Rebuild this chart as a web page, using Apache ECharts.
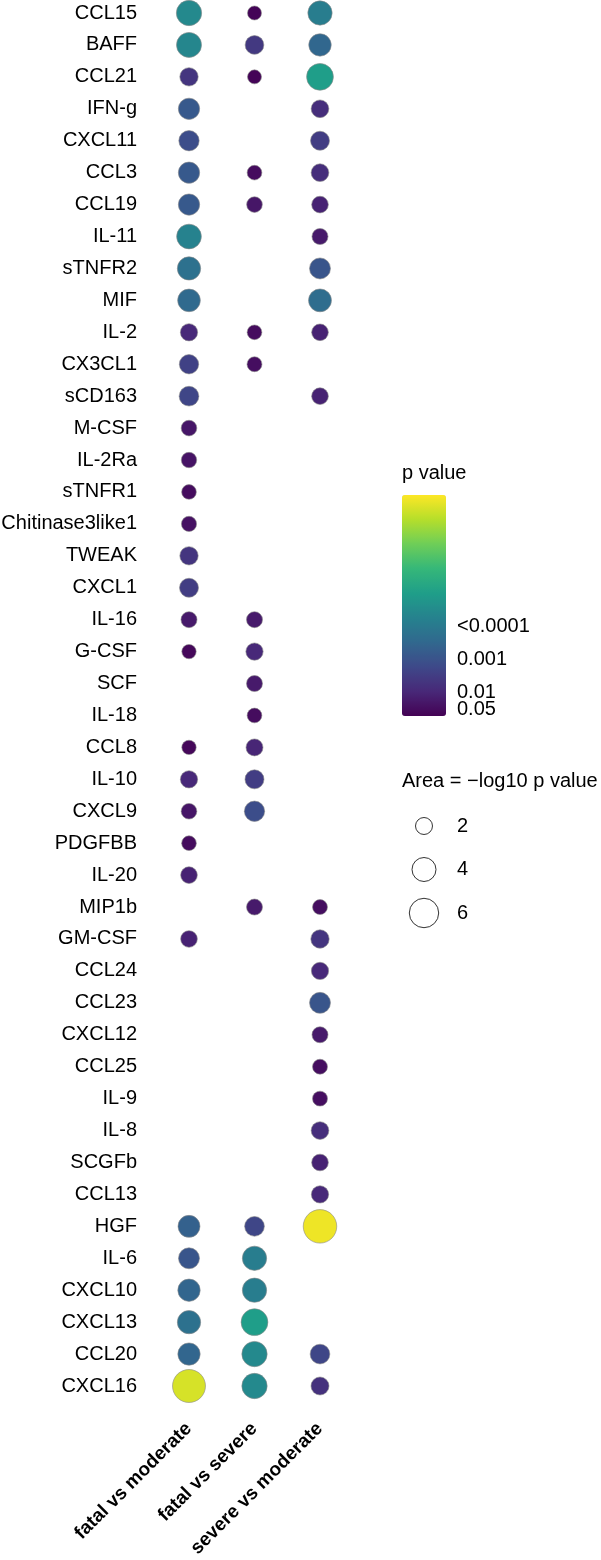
<!DOCTYPE html>
<html>
<head>
<meta charset="utf-8">
<script src="https://cdn.jsdelivr.net/npm/echarts@6/dist/echarts.min.js"></script>
<style>
html,body{margin:0;padding:0;background:#fff;}
#main{width:601px;height:1560px;}
</style>
</head>
<body>
<div id="main"></div>
<script>
// ---- data ----
const cytokines = ['CCL15','BAFF','CCL21','IFN-g','CXCL11','CCL3','CCL19','IL-11','sTNFR2','MIF',
  'IL-2','CX3CL1','sCD163','M-CSF','IL-2Ra','sTNFR1','Chitinase3like1','TWEAK','CXCL1','IL-16',
  'G-CSF','SCF','IL-18','CCL8','IL-10','CXCL9','PDGFBB','IL-20','MIP1b','GM-CSF',
  'CCL24','CCL23','CXCL12','CCL25','IL-9','IL-8','SCGFb','CCL13','HGF','IL-6',
  'CXCL10','CXCL13','CCL20','CXCL16'];
const comparisons = ['fatal vs moderate','fatal vs severe','severe vs moderate'];
// -log10 p values (null = not significant)
const fatalVsModerate = [4.45,4.35,2.34,3.15,2.87,3.15,3.15,4.25,3.78,3.57,
  2.07,2.6,2.7,1.7,1.65,1.5,1.6,2.34,2.5,1.78,
  1.43,null,null,1.43,2.07,1.7,1.5,1.93,null,1.93,
  null,null,null,null,null,null,null,null,3.36,3.06,
  3.47,3.78,3.47,7.55];
const fatalVsSevere = [1.36,2.43,1.36,null,null,1.5,1.7,null,null,null,
  1.5,1.55,null,null,null,null,null,null,null,1.78,
  2.07,1.78,1.5,2.0,2.5,2.87,null,null,1.78,null,
  null,null,null,null,null,null,null,null,2.7,4.1,
  4.1,5.0,4.45,4.45];
const severeVsModerate = [4.1,3.5,5.0,2.17,2.5,2.17,1.93,1.78,3.06,3.65,
  1.93,null,1.93,null,null,null,null,null,null,null,
  null,null,null,null,null,null,null,null,1.55,2.34,
  2.07,3.06,1.78,1.55,1.55,2.17,1.93,2.07,7.8,null,
  null,null,2.7,2.25];
const colorTickValues = [1.5, 2, 3, 4];
const colorTickLabels = ['0.05','0.01','0.001','<0.0001'];
const sizeLegendValues = [2, 4, 6];
const colorMin = 1.3, colorMax = 7.95;

const viridis = ['#440154','#482878','#3e4989','#31688e','#26828e','#1f9e89','#35b779','#6ece58','#b5de2b','#fde725'];
const sizeOf = v => 12 * Math.sqrt(v);

const columns = [fatalVsModerate, fatalVsSevere, severeVsModerate];
const points = [];
columns.forEach((col, ci) => {
  col.forEach((v, ri) => {
    if (v !== null) points.push([comparisons[ci], cytokines[ri], v]);
  });
});

const chart = echarts.init(document.getElementById('main'), null, {renderer: 'canvas'});
const font = 'Liberation Sans, Arial, sans-serif';
const tickFormatter = v => { const i = colorTickValues.findIndex(t => Math.abs(t - v) < 1e-6); return i >= 0 ? colorTickLabels[i] : ''; };
const colorAxis = (vals) => ({
  type: 'value', gridIndex: 1, min: colorMin, max: colorMax, position: 'right',
  axisLine: {show: false}, axisTick: {show: false}, splitLine: {show: false},
  axisLabel: {customValues: vals, hideOverlap: false,
    fontSize: 20, color: '#000', fontFamily: font, margin: 11, formatter: tickFormatter}
});
chart.setOption({
  animation: false,
  textStyle: {fontFamily: font},
  grid: [
    {left: 189, right: 281, top: 13, bottom: 174, outerBoundsMode: 'none', containLabel: false},
    {left: 402, width: 44, top: 495, height: 221, outerBoundsMode: 'none', containLabel: false},
    {left: 424, width: 22, top: 826, height: 87, outerBoundsMode: 'none', containLabel: false}
  ],
  xAxis: [
    {type: 'category', data: comparisons, boundaryGap: false, gridIndex: 0,
     axisLine: {show: false}, axisTick: {show: false}, splitLine: {show: false},
     axisLabel: {rotate: 45, interval: 0, fontSize: 19, fontWeight: 'bold', color: '#000',
       fontFamily: font, margin: 26, align: 'right', verticalAlign: 'top', padding: [0, 10, 0, 0]}},
    {type: 'value', gridIndex: 1, show: false, min: 0, max: 1},
    {type: 'value', gridIndex: 2, show: false, min: 0, max: 1}
  ],
  yAxis: [
    {type: 'category', data: cytokines, inverse: true, boundaryGap: false, gridIndex: 0,
     axisLine: {show: false}, axisTick: {show: false}, splitLine: {show: false},
     axisLabel: {interval: 0, fontSize: 20, color: '#000', fontFamily: font, margin: 52}},
    colorAxis(colorTickValues.slice(1)),
    {type: 'category', gridIndex: 2, data: sizeLegendValues.map(String), inverse: true, boundaryGap: false,
     position: 'right', axisLine: {show: false}, axisTick: {show: false}, splitLine: {show: false},
     axisLabel: {fontSize: 20, color: '#000', fontFamily: font, margin: 11}},
    Object.assign(colorAxis(colorTickValues.slice(0, 1)), {offset: 0})
  ],
  visualMap: {
    type: 'continuous', seriesIndex: 0, dimension: 2, min: colorMin, max: colorMax,
    left: 402, top: 495, itemWidth: 44, itemHeight: 221, padding: 0,
    calculable: false, text: null, inRange: {color: viridis}
  },
  graphic: [
    {type: 'text', left: 402, top: 463, style: {text: 'p value', font: '20px ' + font, fill: '#000'}},
    {type: 'text', left: 402, top: 771, style: {text: 'Area = \u2212log10 p value', font: '20px ' + font, fill: '#000'}}
  ],
  series: [
    {type: 'scatter', xAxisIndex: 0, yAxisIndex: 0, data: points, clip: false,
     symbolSize: d => sizeOf(d[2]),
     itemStyle: {borderColor: '#8a8a8a', borderWidth: 0.6, opacity: 1}},
    {type: 'scatter', xAxisIndex: 2, yAxisIndex: 2, clip: false,
     data: sizeLegendValues.map(v => [0, String(v), v]),
     symbolSize: d => sizeOf(d[2]),
     itemStyle: {color: '#fff', borderColor: '#000', borderWidth: 1}}
  ]
});
</script>
</body>
</html>
